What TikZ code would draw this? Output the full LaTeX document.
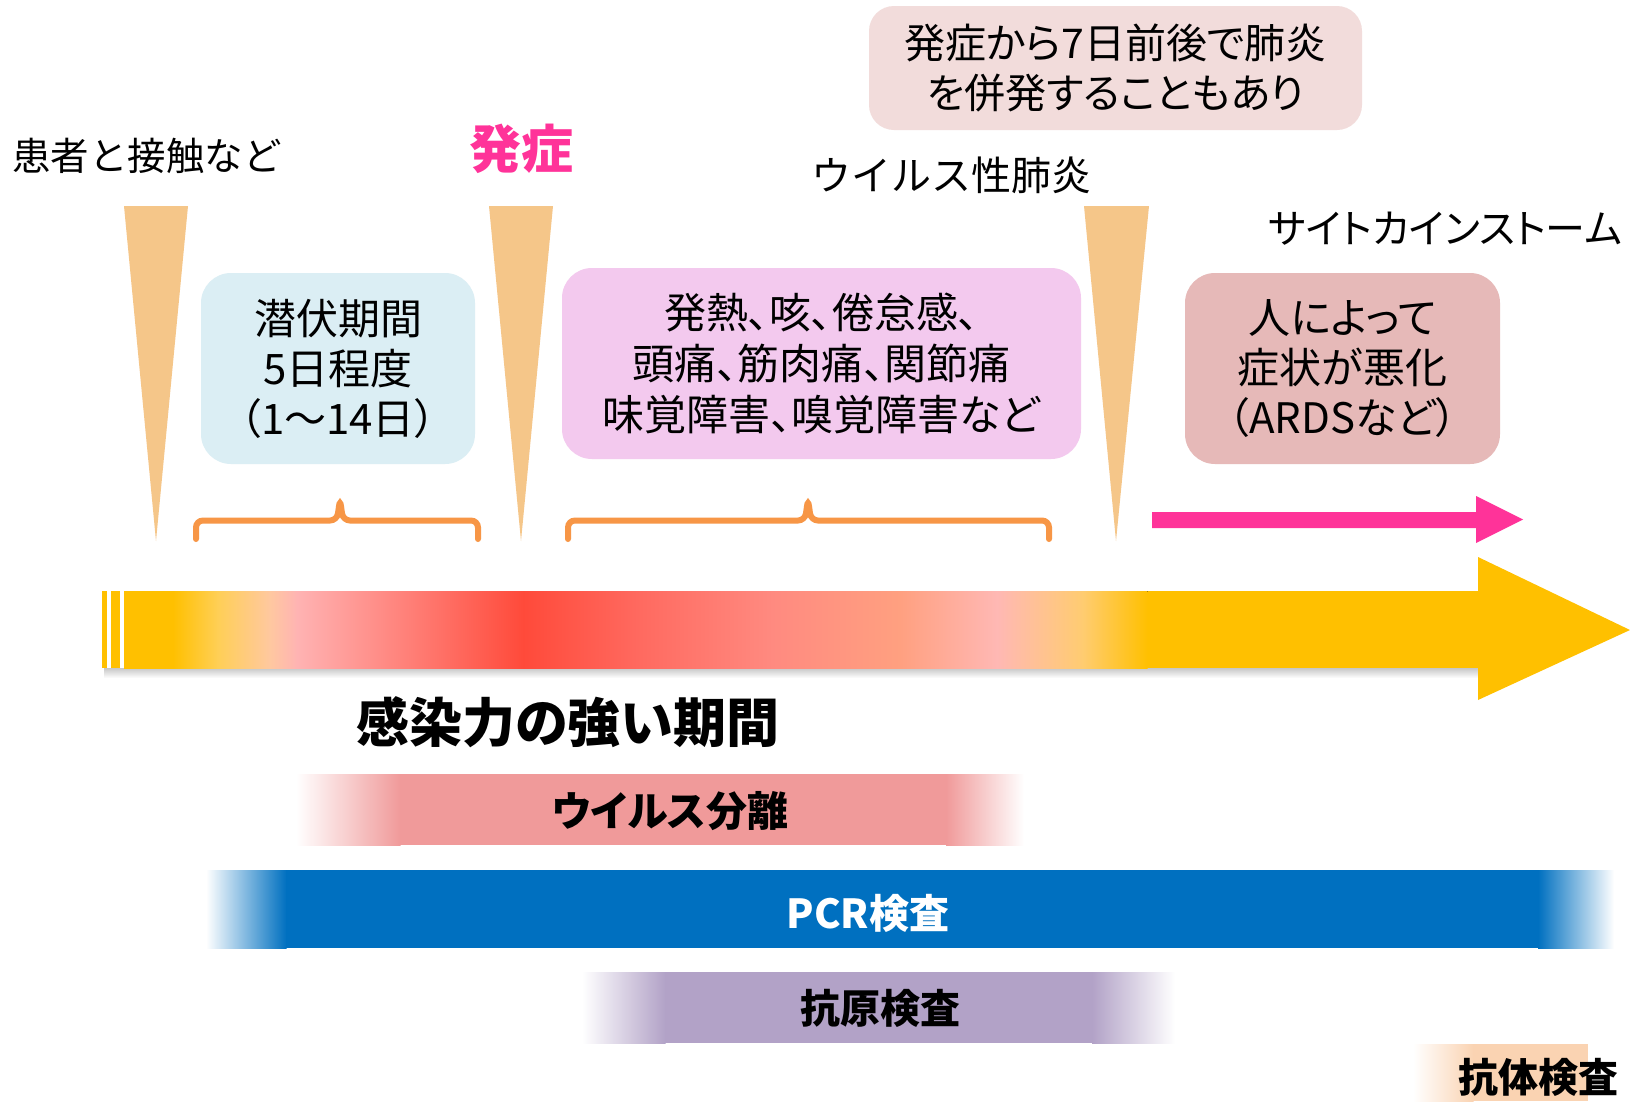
\documentclass[tikz,border=0pt]{standalone}
\usepackage{fontspec}
\newfontfamily\jp{Noto Sans CJK JP}[RawFeature={+palt}]
\newfontfamily\jpm{Noto Sans CJK JP}
\definecolor{tri}{HTML}{F5C689}
\definecolor{boxblue}{HTML}{DBEEF4}
\definecolor{boxpink}{HTML}{F3C9EE}
\definecolor{boxtop}{HTML}{F2DCDB}
\definecolor{boxrose}{HTML}{E6B9B8}
\definecolor{brace}{HTML}{F79646}
\definecolor{hotpink}{HTML}{FF3399}
\definecolor{amber}{HTML}{FFC000}
\definecolor{virus}{HTML}{F09A9A}
\definecolor{pcr}{HTML}{0070C0}
\definecolor{antigen}{HTML}{B2A2C7}
\definecolor{antibody}{HTML}{FAD3B2}
\tikzset{
  jt/.style={inner sep=0pt, align=center, font=\jp\fontsize{42}{50}\selectfont},
  jtb/.style={inner sep=0pt, align=center, font=\jp\bfseries\fontsize{40}{50}\selectfont},
  rbox/.style={jt, rounded corners=30pt},
  bracepath/.style={draw=brace, line width=6pt, rounded corners=7pt, line cap=round},
}
\begin{document}
\begin{tikzpicture}[x=1pt,y=-1pt]
\useasboundingbox (0,0) rectangle (1630,1101);
\fill[white] (0,0) rectangle (1630,1101);

% top labels
\node[jt, anchor=west, font=\jpm\fontsize{38.5}{46}\selectfont] (contact) at (12,156) {患者と接触など};
\node[jtb, text=hotpink, font=\jp\bfseries\fontsize{52}{60}\selectfont] (onset) at (521,149) {発症};
\node[jt, font=\jpm\fontsize{40}{46}\selectfont] (vpn) at (951,175) {ウイルス性肺炎};
\node[jt, anchor=east, font=\jp\fontsize{40}{46}\selectfont] (storm) at (1622,229) {サイトカインストーム};
\node[rbox, fill=boxtop, rounded corners=25pt, minimum width=493, minimum height=124, font=\jp\fontsize{41}{50}\selectfont] (note) at (1115.5,68) {発症から7日前後で肺炎\\を併発することもあり};

% wedges
\fill[tri] (124,206) -- (188,206) -- (156,541) -- cycle;
\fill[tri] (489,206) -- (553,206) -- (521,541) -- cycle;
\fill[tri] (1084,206) -- (1149,206) -- (1116,541) -- cycle;

% boxes
\node[rbox, fill=boxblue, minimum width=274, minimum height=191] (incub) at (338,368.5) {潜伏期間\\5日程度\\（1～14日）};
\node[rbox, fill=boxpink, minimum width=519, minimum height=191, font=\jp\fontsize{42}{51}\selectfont] (sympt) at (821.5,363.5) {発熱、咳、倦怠感、\\頭痛、筋肉痛、関節痛\\味覚障害、嗅覚障害など};
\node[rbox, fill=boxrose, minimum width=315, minimum height=191] (worse) at (1342.5,368.5) {人によって\\症状が悪化\\（ARDSなど）};

% braces
\draw[bracepath] (196,539) -- (196,520.5) -- (337,520.5) -- (340,499) -- (343,520.5) -- (478,520.5) -- (478,539);
\draw[bracepath] (568,539) -- (568,520.5) -- (805,520.5) -- (808,499) -- (811,520.5) -- (1049,520.5) -- (1049,539);

% pink arrow
\fill[hotpink] (1152,512) -- (1476,512) -- (1476,496) -- (1523,519.5) -- (1476,543) -- (1476,528) -- (1152,528) -- cycle;

% big timeline arrow
\fill[top color=black!22, bottom color=white] (104,668) rectangle (1482,678);
\fill[amber] (102,591) rectangle (107,668);
\fill[amber] (111,591) rectangle (120,668);
\fill[amber] (1146,591) rectangle (1479,668);
\fill[amber] (1478,557) -- (1630,630) -- (1478,700) -- cycle;
\foreach \xa/\ca/\xb/\cb in {
  124/FFC000/173/FFC000,
  173/FFC000/217/FFCF55,
  217/FFCF55/270/FFC8A0,
  270/FFC8A0/297/FFB3B3,
  297/FFB3B3/523/FF4A3A,
  523/FF4A3A/640/FF6A60,
  640/FF6A60/772/FF8A80,
  772/FF8A80/900/FFA080,
  900/FFA080/997/FFB8B4,
  997/FFB8B4/1083/FFCC70,
  1083/FFCC70/1147/FFC000}{
  \definecolor{ga}{HTML}{\ca}\definecolor{gb}{HTML}{\cb}
  \fill[left color=ga, right color=gb] (\xa,591) rectangle (\xb+0.6,668);
}
\node[jtb, font=\jp\bfseries\fontsize{53}{60}\selectfont] (strong) at (568,722) {感染力の強い期間};

% test bars
\fill[left color=white, right color=virus] (296,774) rectangle (400.5,845);
\fill[virus] (400,774) rectangle (946.5,845);
\fill[left color=virus, right color=white] (946,774) rectangle (1024,845);
\node[jtb, font=\jp\bfseries\fontsize{41}{50}\selectfont] (iso) at (670,811) {ウイルス分離};

\fill[left color=white, right color=pcr] (206,870) rectangle (286.5,948);
\fill[pcr] (286,870) rectangle (1538.5,948);
\fill[left color=pcr, right color=white] (1538,870) rectangle (1614,948);
\node[jtb, text=white] (pcrt) at (868,913) {PCR検査};

\fill[left color=white, right color=antigen] (582,972) rectangle (665.5,1043);
\fill[antigen] (665,972) rectangle (1092.5,1043);
\fill[left color=antigen, right color=white] (1092,972) rectangle (1175,1043);
\node[jtb] (agt) at (880,1008) {抗原検査};

\fill[left color=white, right color=antibody] (1413,1044) rectangle (1473.5,1101);
\fill[antibody] (1473,1044) rectangle (1588,1101);
\node[jtb, anchor=west, font=\jp\bfseries\fontsize{40}{50}\selectfont] (abt) at (1458,1077) {抗体検査};
\end{tikzpicture}
\end{document}
